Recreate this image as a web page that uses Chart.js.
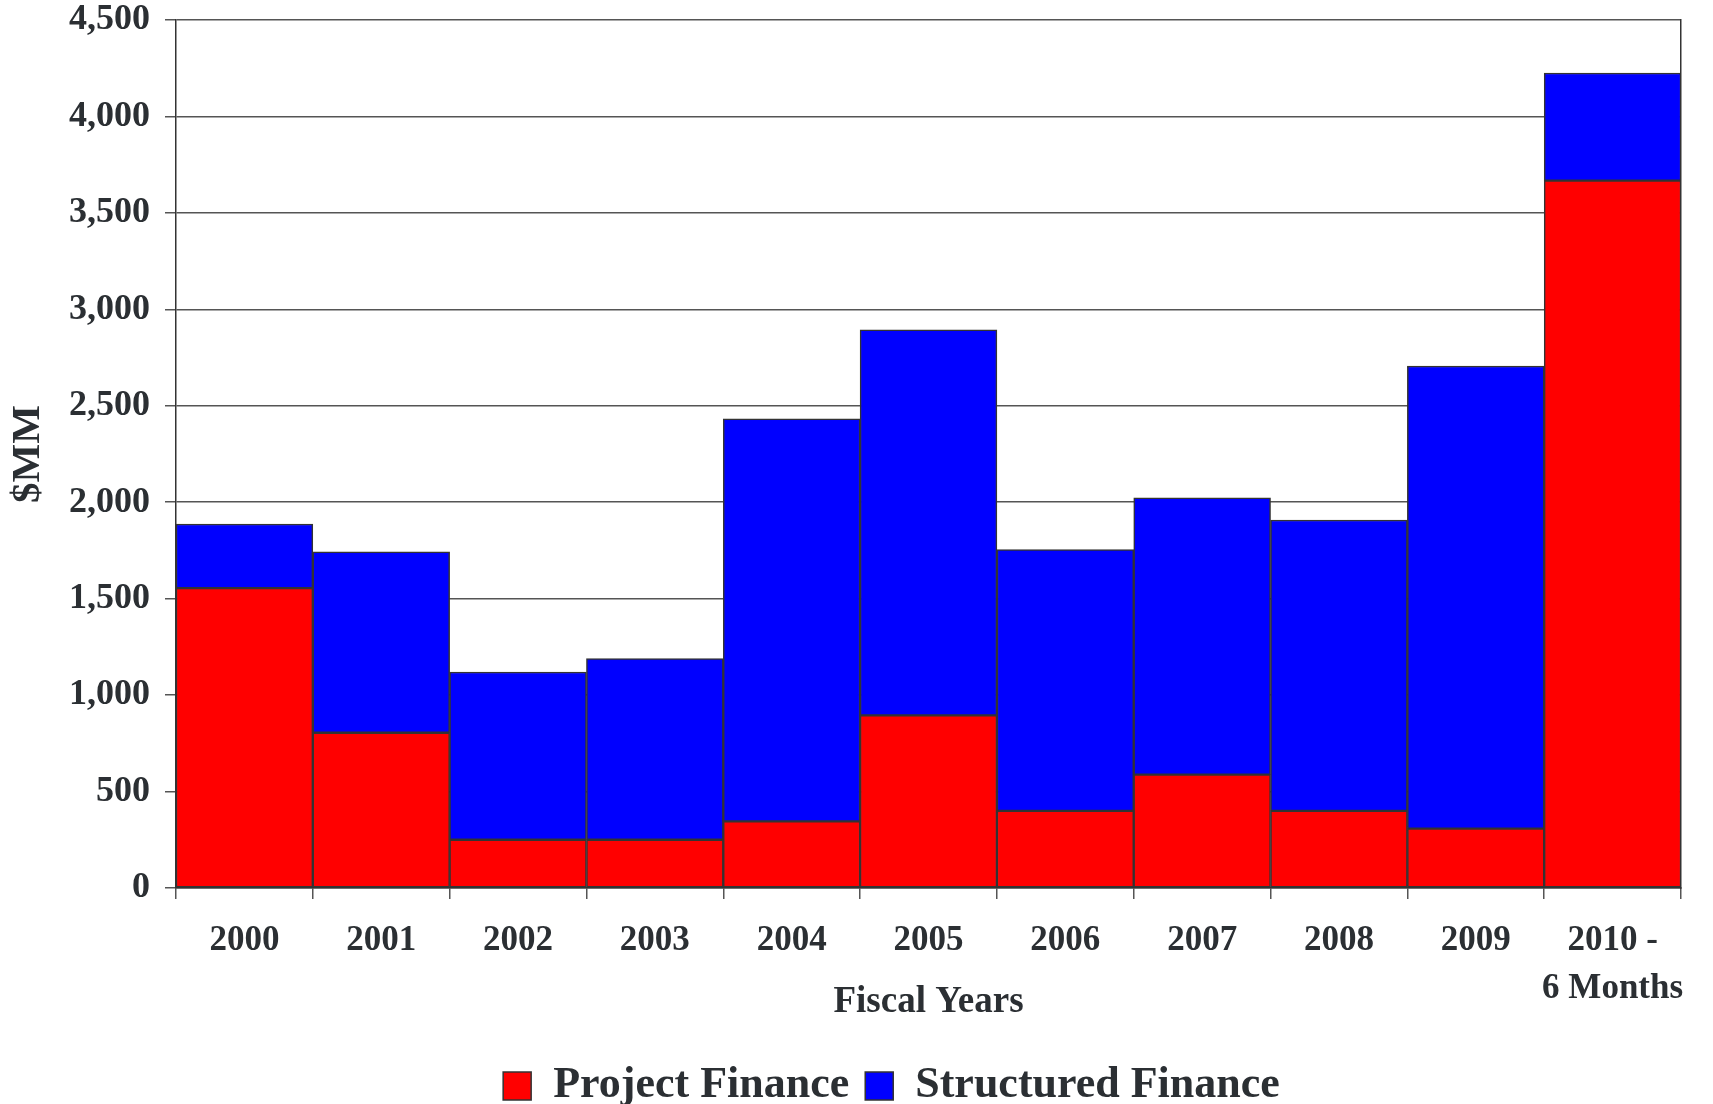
<!DOCTYPE html>
<html>
<head>
<meta charset="utf-8">
<script src="https://cdn.jsdelivr.net/npm/chart.js@4.4.1/dist/chart.umd.min.js"></script>
<style>
  html, body { margin: 0; padding: 0; background: #ffffff; }
  #wrap { width: 1713px; height: 1104px; position: relative; }
</style>
</head>
<body>
<div id="wrap"><canvas id="c" width="1713" height="1104"></canvas></div>
<script>
const categories = ['2000', '2001', '2002', '2003', '2004', '2005', '2006', '2007', '2008', '2009', ['2010 -', '6 Months']];
const projectFinance = [1555, 805, 250, 250, 345, 895, 400, 588, 400, 308, 3667];
const structuredFinance = [332, 938, 870, 940, 2087, 1999, 1354, 1435, 1508, 2398, 558];
const yTicksMax = 4500;
const yTickStep = 500;
const seriesNames = ['Project Finance', 'Structured Finance'];
const yTitle = '$MM';
const xTitle = 'Fiscal Years';

const textColor = '#2b2f33';
const fontFamily = "'Liberation Serif', 'Times New Roman', serif";

const legendShift = {
  id: 'legendShift',
  afterLayout(chart) {
    if (chart.legend) {
      chart.legend.left -= 37;
      chart.legend.right -= 37;
    }
  }
};

new Chart(document.getElementById('c'), {
  type: 'bar',
  data: {
    labels: categories,
    datasets: [
      {
        label: seriesNames[0],
        data: projectFinance,
        backgroundColor: '#ff0000',
        borderColor: '#333333',
        borderWidth: 1.5,
        borderSkipped: false,
        stack: 's'
      },
      {
        label: seriesNames[1],
        data: structuredFinance,
        backgroundColor: '#0000ff',
        borderColor: '#333333',
        borderWidth: 1.5,
        borderSkipped: false,
        stack: 's'
      }
    ]
  },
  options: {
    responsive: false,
    animation: false,
    devicePixelRatio: 1,
    layout: { padding: { top: 20, right: 32, left: 0, bottom: -14 } },
    datasets: { bar: { categoryPercentage: 1.0, barPercentage: 1.0 } },
    scales: {
      x: {
        stacked: true,
        offset: true,
        grid: { display: true, drawOnChartArea: false, offset: true, color: '#555', lineWidth: 1.5, tickLength: 11 },
        border: { display: true, color: '#333', width: 1.5 },
        ticks: {
          color: textColor,
          font: { family: fontFamily, size: 35, weight: 'bold', lineHeight: 1.37 },
          padding: 18,
          maxRotation: 0,
          autoSkip: false
        },
        title: {
          display: true,
          text: xTitle,
          color: textColor,
          font: { family: fontFamily, size: 37, weight: 'bold' },
          padding: { top: 0, bottom: 23 }
        },
        afterFit(scale) { scale.height = 160; }
      },
      y: {
        stacked: true,
        min: 0,
        max: yTicksMax,
        grid: { color: '#555', lineWidth: 1.5, tickLength: 11 },
        border: { display: true, color: '#333', width: 1.5 },
        ticks: {
          stepSize: yTickStep,
          color: textColor,
          font: { family: fontFamily, size: 36, weight: 'bold' },
          padding: 15
        },
        title: {
          display: true,
          text: yTitle,
          color: textColor,
          font: { family: fontFamily, size: 41, weight: 'bold' },
          padding: { top: 4, bottom: 0 }
        },
        afterFit(scale) {
          scale.width = 176;
          scale.paddingTop = 0;
          scale.paddingBottom = 0;
        }
      },
      y2: {
        position: 'right',
        min: 0,
        max: yTicksMax,
        grid: { display: false },
        ticks: { display: false },
        border: { display: true, color: '#333', width: 1.5 },
        afterFit(scale) { scale.width = 0; }
      }
    },
    plugins: {
      legend: {
        position: 'bottom',
        fullSize: false,
        labels: {
          color: textColor,
          font: { family: fontFamily, size: 44, weight: 'bold' },
          boxWidth: 28,
          boxHeight: 28,
          padding: 16
        }
      },
      tooltip: { enabled: false }
    }
  },
  plugins: [legendShift]
});
</script>
</body>
</html>
